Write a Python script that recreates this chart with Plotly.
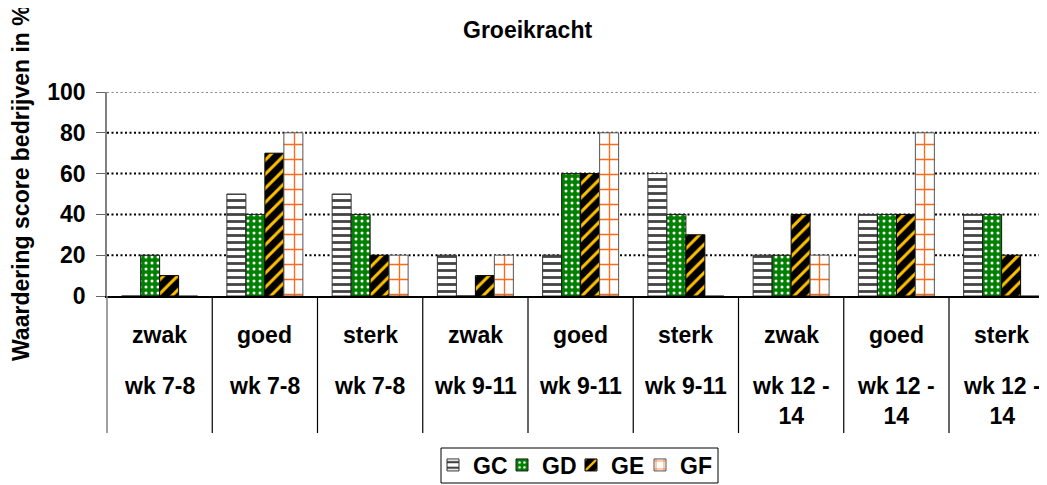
import plotly.graph_objects as go

# ---- data ----
strength = ["zwak", "goed", "sterk", "zwak", "goed", "sterk", "zwak", "goed", "sterk"]
weeks = ["wk 7-8", "wk 7-8", "wk 7-8", "wk 9-11", "wk 9-11", "wk 9-11",
         "wk 12 -<br>14", "wk 12 -<br>14", "wk 12 -<br>14"]
series_names = ["GC", "GD", "GE", "GF"]
gc = [0, 50, 50, 20, 20, 60, 20, 40, 40]
gd = [20, 40, 40, 0, 60, 40, 20, 40, 40]
ge = [10, 70, 20, 10, 60, 30, 40, 40, 20]
gf = [0, 80, 20, 20, 80, 0, 20, 80, 0]
y_ticks = [0, 20, 40, 60, 80, 100]

title_text = "Groeikracht"
y_title = "Waardering score bedrijven in %"

# ---- layout geometry (screen pixels; page body has an 8px margin) ----
OFF = 8
W, H = 1047, 485
S_LEFT, S_TOP, S_BOTTOM = 107, 92, 296       # plot area in screen pixels
ML = S_LEFT - OFF
MT = S_TOP - OFF
MR = 0
plot_w = W - ML - MR
plot_h = S_BOTTOM - S_TOP
MB = H - MT - plot_h
cat_w = 105.25
x0 = -0.5
x1 = x0 + plot_w / cat_w
TABLE_BOTTOM = 433

FONT = "Liberation Sans, Arial, sans-serif"
FS = 23


def py(screen_y):
    return (S_BOTTOM - screen_y) / plot_h


def pxs(screen_x):
    return (screen_x - S_LEFT) / plot_w


def px(data_x):
    return (data_x - x0) / (x1 - x0)


def bold(size):
    return dict(size=size, family=FONT, color="black", weight="bold")


styles = [
    dict(bg="white", fg="#444444", shape="-", size=7, solidity=0.4, line="#333333"),
    dict(bg="#008000", fg="white", shape=".", size=6, solidity=0.2, line="#1a1a1a"),
    dict(bg="black", fg="#FFC000", shape="/", size=10, solidity=0.3, line="#000000"),
    dict(bg="white", fg="#FF6A1A", shape="+", size=15, solidity=0.17, line="#555555"),
]

xs = list(range(len(strength)))
fig = go.Figure()
for name, vals, st in zip(series_names, [gc, gd, ge, gf], styles):
    fig.add_trace(go.Bar(
        x=xs, y=vals, name=name,
        marker=dict(
            color=st["bg"],
            line=dict(color=st["line"], width=1),
            pattern=dict(shape=st["shape"], bgcolor=st["bg"], fgcolor=st["fg"],
                         size=st["size"], solidity=st["solidity"], fillmode="replace"),
        ),
    ))
# invisible legend spacer so the last legend label is not clipped
fig.add_trace(go.Scatter(x=[None], y=[None], mode="markers", name="\u00a0",
                         marker=dict(opacity=0, color="white"), hoverinfo="skip",
                         showlegend=True))

shapes = []
# dotted gridlines
for v in y_ticks[1:]:
    shapes.append(dict(type="line", xref="paper", yref="y", x0=0, x1=1, y0=v, y1=v,
                       layer="below",
                       line=dict(color="#888888" if v == y_ticks[-1] else "#000000",
                                 width=2, dash="2px,2.5px")))
# y-axis line extension into table area
shapes.append(dict(type="line", xref="paper", yref="paper", x0=0, x1=0,
                   y0=py(TABLE_BOTTOM), y1=0, line=dict(color="#808080", width=1.5)))
# category dividers
for i in range(len(strength) - 1):
    xp = px(i + 0.5)
    shapes.append(dict(type="line", xref="paper", yref="paper", x0=xp, x1=xp,
                       y0=py(TABLE_BOTTOM), y1=0, line=dict(color="#000000", width=1.2)))
# legend frame
shapes.append(dict(type="rect", xref="paper", yref="paper",
                   x0=pxs(441), x1=pxs(718), y0=py(483), y1=py(448),
                   line=dict(color="black", width=1), fillcolor="rgba(0,0,0,0)"))

annotations = []
for i, (s, w) in enumerate(zip(strength, weeks)):
    annotations.append(dict(x=i, xref="x", y=py(335), yref="paper", text=s,
                            showarrow=False, xanchor="center", yanchor="middle",
                            font=bold(FS)))
    annotations.append(dict(x=i, xref="x", y=py(371), yref="paper", text=w,
                            showarrow=False, xanchor="center", yanchor="top",
                            font=bold(FS)))
# y-axis title
annotations.append(dict(x=pxs(21), xref="paper", y=py(363), yref="paper",
                        text=y_title, textangle=-90, showarrow=False,
                        xanchor="center", yanchor="bottom", font=bold(23)))
# chart title
annotations.append(dict(x=pxs(527), xref="paper", y=py(30), yref="paper",
                        text=title_text, showarrow=False, xanchor="center", yanchor="middle",
                        font=bold(FS)))

fig.update_layout(
    width=W, height=H,
    margin=dict(l=ML, r=MR, t=MT, b=MB, pad=0, autoexpand=False),
    paper_bgcolor="white", plot_bgcolor="white",
    font=bold(FS),
    barmode="group", bargap=0.278, bargroupgap=0,
    showlegend=True,
    legend=dict(orientation="h", xref="paper", yref="paper",
                x=pxs(433), xanchor="left",
                y=py(465), yanchor="middle", borderwidth=0,
                bgcolor="rgba(0,0,0,0)", font=bold(FS),
                itemwidth=30, entrywidth=24, entrywidthmode="pixels",
                tracegroupgap=0),
    xaxis=dict(range=[x0, x1], showticklabels=False, ticks="", showgrid=False,
               zeroline=False, showline=True, linecolor="black", linewidth=1.5,
               automargin=False),
    yaxis=dict(range=[0, 100], tickvals=y_ticks, ticks="outside", ticklen=9,
               tickcolor="#666666", tickwidth=1, showgrid=False, zeroline=False,
               showline=True, linecolor="#808080", linewidth=1.5,
               ticklabelstandoff=6, automargin=False,
               tickfont=bold(23)),
    shapes=shapes,
    annotations=annotations,
)

fig.write_html("out.html")
